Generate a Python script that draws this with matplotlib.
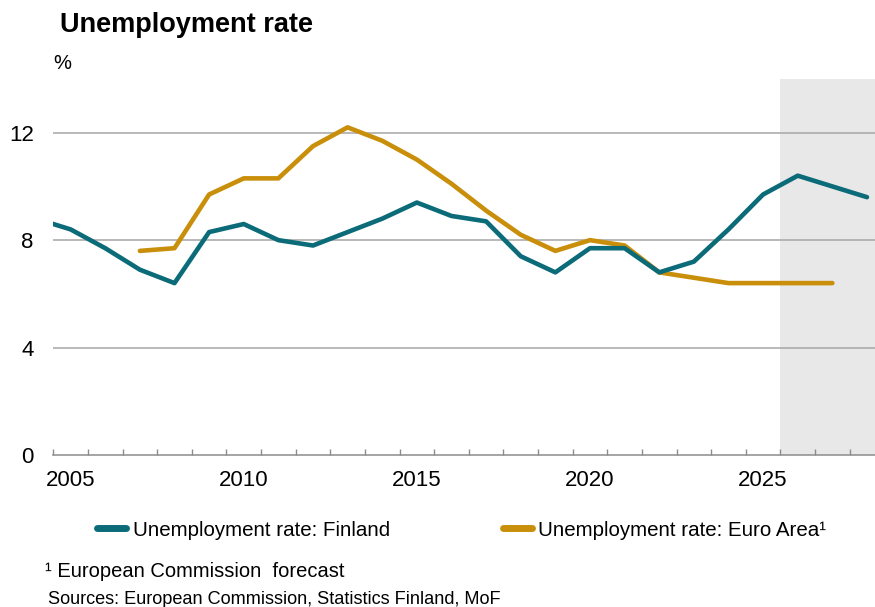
import numpy as np
import matplotlib.pyplot as plt
from matplotlib.ticker import FixedLocator

plt.rcParams['font.family'] = ['Liberation Sans', 'DejaVu Sans']

years_fi = list(range(2004, 2029))
finland = [8.8, 8.4, 7.7, 6.9, 6.4, 8.3, 8.6, 8.0, 7.8, 8.3, 8.8, 9.4, 8.9, 8.7,
           7.4, 6.8, 7.7, 7.7, 6.8, 7.2, 8.4, 9.7, 10.4, 10.0, 9.6]

years_ea = list(range(2007, 2028))
euro_area = [7.6, 7.7, 9.7, 10.3, 10.3, 11.5, 12.2, 11.7, 11.0, 10.1, 9.1, 8.2,
             7.6, 8.0, 7.8, 6.8, 6.6, 6.4, 6.4, 6.4, 6.4]

forecast_start = 2026
label_years = [2005, 2010, 2015, 2020, 2025]
y_ticks = [0, 4, 8, 12]

teal = '#0B6B78'
gold = '#C98F0B'

fig = plt.figure(figsize=(8.75, 6.07), dpi=100)
ax = fig.add_axes([53.3 / 875, 1 - 455 / 607, 831 / 875, 376 / 607])

# forecast period shading and horizontal grid
ax.axvspan(forecast_start - 0.5, years_fi[-1] + 0.5, color='#E8E8E8', zorder=0, lw=0)
for y in y_ticks[1:]:
    ax.axhline(y, color='#A6A6A6', lw=1.1, zorder=1)

ax.plot(years_fi, finland, color=teal, lw=3.3, solid_capstyle='round',
        solid_joinstyle='round', zorder=3, label='Unemployment rate: Finland')
ax.plot(years_ea, euro_area, color=gold, lw=3.3, solid_capstyle='round',
        solid_joinstyle='round', zorder=2, label='Unemployment rate: Euro Area¹')

ax.set_xlim(years_fi[0] + 0.5, years_fi[-1] + 0.5)
ax.set_ylim(0, 14)

for s in ['top', 'right', 'left']:
    ax.spines[s].set_visible(False)
ax.spines['bottom'].set_color('#8C8C8C')
ax.spines['bottom'].set_linewidth(1.1)

ax.set_yticks(y_ticks)
ax.tick_params(axis='y', length=0, pad=14, labelsize=16)
ax.set_xticks(label_years)
ax.xaxis.set_minor_locator(FixedLocator(np.arange(years_fi[0] + 0.5, years_fi[-1] + 1)))
ax.tick_params(axis='x', which='major', length=0, pad=11, labelsize=16)
ax.tick_params(axis='x', which='minor', direction='in', length=4, width=1, color='#8C8C8C')

fig.text(60 / 875, 1 - 32 / 607, 'Unemployment rate', fontsize=19.5, fontweight='bold',
         va='baseline', ha='left')
fig.text(53 / 875, 1 - 69 / 607, '%', fontsize=14.5, va='baseline', ha='left')

handles, labels = ax.get_legend_handles_labels()
leg = fig.legend(handles, labels, ncol=2, frameon=False, fontsize=14.8,
                 loc='center left', bbox_to_anchor=(97 / 875, 1 - 530 / 607),
                 handlelength=1.4, handletextpad=0.33, columnspacing=5.5,
                 borderpad=0, borderaxespad=0)
for h in leg.legend_handles:
    h.set_linewidth(5)
    h.set_solid_capstyle('round')

fig.text(45 / 875, 1 - 577 / 607, '¹ European Commission  forecast', fontsize=14.5,
         va='baseline', ha='left')
fig.text(48 / 875, 1 - 604 / 607, 'Sources: European Commission, Statistics Finland, MoF',
         fontsize=13.1, va='baseline', ha='left')

fig.savefig('out.png', dpi=100)
